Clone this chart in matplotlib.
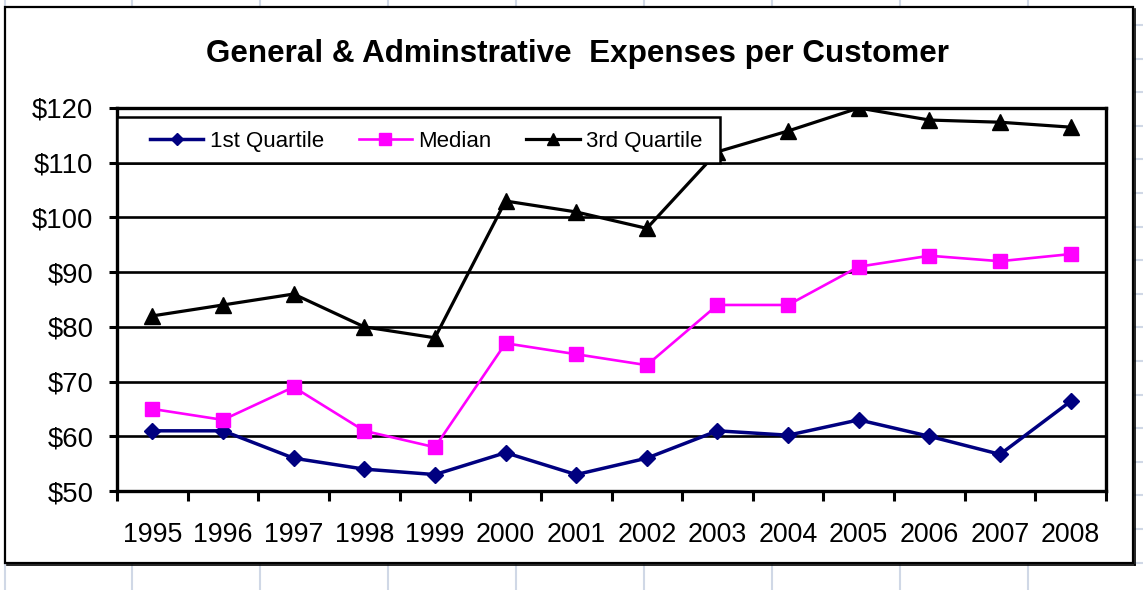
import matplotlib
matplotlib.use("Agg")
import matplotlib.pyplot as plt
from matplotlib.lines import Line2D
from matplotlib.patches import Rectangle
from matplotlib.ticker import FixedLocator, FuncFormatter

plt.rcParams['font.family'] = ['Liberation Sans', 'DejaVu Sans']

# ---- data ----
years = ['1995', '1996', '1997', '1998', '1999', '2000', '2001',
         '2002', '2003', '2004', '2005', '2006', '2007', '2008']
first_quartile = [61, 61, 56, 54, 53, 57, 53, 56, 61, 60.2, 63, 60, 56.7, 66.4]
median = [65, 63, 69, 61, 58, 77, 75, 73, 84, 84, 91, 93, 92, 93.3]
third_quartile = [82, 84, 86, 80, 78, 103, 101, 98, 112, 115.8, 120, 117.8, 117.4, 116.5]
y_ticks = [50, 60, 70, 80, 90, 100, 110, 120]
title = "General & Adminstrative  Expenses per Customer"

W, H = 1143, 590
fig = plt.figure(figsize=(W / 100, H / 100), dpi=100)
fig.patch.set_facecolor('white')

# spreadsheet cell grid behind the chart object
grid_col = '#d0d8e6'
for gx in [4.5, 132, 260, 388, 516, 644, 772, 900, 1028]:
    fig.add_artist(Line2D([gx / W, gx / W], [0, 1], transform=fig.transFigure,
                          color=grid_col, lw=1.5, zorder=0))
cx0, cx1, cy0, cy1 = 5, 1133, 7, 563
for k in range(17):
    gy = 25 + 33.6 * k
    fig.add_artist(Line2D([cx1 / W, 1], [1 - gy / H, 1 - gy / H], transform=fig.transFigure,
                          color=grid_col, lw=1.5, zorder=0))

# chart area (white box with a black border and slight shadow)
fig.add_artist(Rectangle((cx0 / W, 1 - cy1 / H), (cx1 - cx0) / W, (cy1 - cy0) / H,
                         transform=fig.transFigure, facecolor='white',
                         edgecolor='black', lw=1.6, zorder=1))
fig.add_artist(Line2D([(cx1 + 1.5) / W] * 2, [1 - (cy1 + 1.5) / H, 1 - (cy0 + 2) / H],
                      transform=fig.transFigure, color='black', lw=1.2, zorder=1))
fig.add_artist(Line2D([(cx0 + 2) / W, (cx1 + 1.5) / W], [1 - (cy1 + 1.5) / H] * 2,
                      transform=fig.transFigure, color='black', lw=1.2, zorder=1))

# plot area
px0, px1, py0, py1 = 117, 1106, 108, 491
ax = fig.add_axes([px0 / W, 1 - py1 / H, (px1 - px0) / W, (py1 - py0) / H])
ax.set_zorder(2)
ax.set_facecolor('none')

x = list(range(len(years)))
ax.plot(x, first_quartile, color='#000080', lw=2.5, marker='D', ms=7.8,
        label='1st Quartile', zorder=3)
ax.plot(x, median, color='#ff00ff', lw=1.9, marker='s', ms=10.5,
        label='Median', zorder=3)
ax.plot(x, third_quartile, color='black', lw=2.3, marker='^', ms=11,
        label='3rd Quartile', zorder=3)

ax.set_xlim(-0.5, len(years) - 0.5)
ax.set_ylim(50, 120)

ax.yaxis.set_major_locator(FixedLocator(y_ticks))
ax.yaxis.set_major_formatter(FuncFormatter(lambda v, p: f"${v:.0f}"))
ax.grid(axis='y', color='black', lw=1.9, zorder=1)
ax.set_axisbelow(True)

ax.set_xticks(x)
ax.set_xticklabels(years)
ax.set_xticks([i - 0.5 for i in range(len(years) + 1)], minor=True)
ax.tick_params(axis='x', which='major', length=0, pad=22, labelsize=19.3)
ax.tick_params(axis='x', which='minor', length=7, width=2.2, direction='out', color='black')
ax.tick_params(axis='y', which='major', length=6, width=2.2, direction='out',
               pad=11, labelsize=19.8)

for s in ax.spines.values():
    s.set_linewidth(2.4)
    s.set_color('black')

# legend box
lx0, lx1, ly0, ly1 = 117, 720, 117, 163
ax.add_patch(Rectangle(((lx0 - px0) / (px1 - px0), (py1 - ly1) / (py1 - py0)),
                       (lx1 - lx0) / (px1 - px0), (ly1 - ly0) / (py1 - py0),
                       transform=ax.transAxes, facecolor='white', edgecolor='black',
                       lw=1.8, zorder=5, clip_on=False))
leg = ax.legend(loc='center left', ncol=3, frameon=False, fontsize=16,
                bbox_to_anchor=((150 - px0) / (px1 - px0), (py1 - (ly0 + ly1 + 3) / 2) / (py1 - py0)),
                borderaxespad=0, borderpad=0, handlelength=2.4, handletextpad=0.3,
                columnspacing=1.55, markerscale=0.8)
leg.set_zorder(6)

fig.text(578 / W, 1 - 54 / H, title, ha='center', va='center',
         fontsize=22.6, fontweight='bold', zorder=3)

fig.savefig('out.png', dpi=100)
